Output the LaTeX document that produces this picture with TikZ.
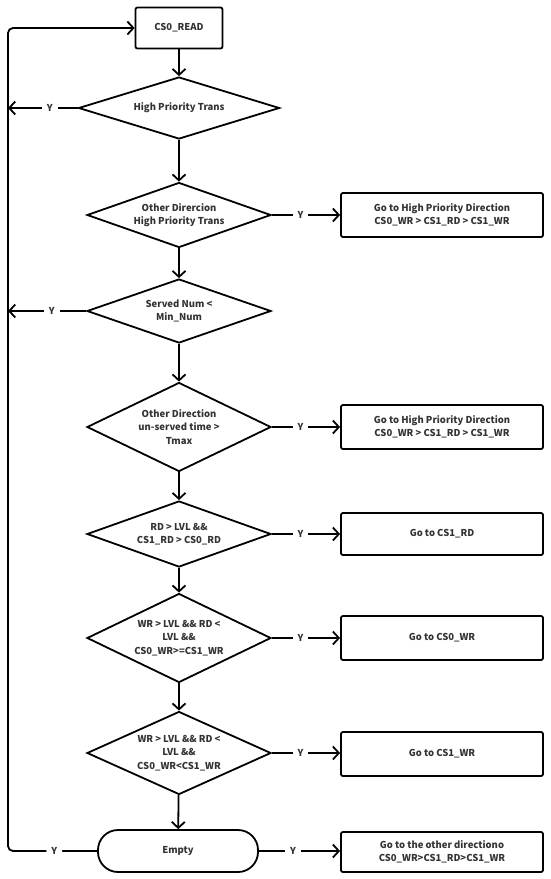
\documentclass[tikz,border=0pt]{standalone}
\usepackage{fontspec}
\setmainfont{Noto Sans CJK SC}
\usetikzlibrary{arrows.meta, positioning, shapes.geometric}

\begin{document}
\begin{tikzpicture}[x=1pt, y=-1pt, line width=1.8pt,
    font=\fontsize{9.5}{13.5}\selectfont\bfseries,
    every node/.style={text=black!80, align=center, inner sep=0pt},
    flow/.style={-{Straight Barb[length=6pt,width=13pt]}},
    startbox/.style={draw=black, rounded corners=2pt, minimum width=87pt, minimum height=41pt},
    gobox/.style={draw=black, rounded corners=2pt, minimum width=202pt, minimum height=43pt},
    test/.style={draw=black, diamond, aspect=2.8, minimum width=184pt},
    endbox/.style={draw=black, rounded corners=20pt, minimum width=160pt, minimum height=42pt},
    ylab/.style={fill=white, inner xsep=5pt, inner ysep=2pt},]

\useasboundingbox (0,0) rectangle (550,879);

\node[startbox] (read) at (179,28) {CS0\_READ};
\node[test, minimum width=201pt, minimum height=62pt] (hp) at (179,108) {High Priority Trans};
\node[test, minimum height=65pt] (ohp) at (179,215) {Other Dirercion\\High Priority Trans};
\node[test, minimum height=64pt] (num) at (179,311) {Served Num <\\Min\_Num};
\node[test, aspect=2, minimum height=89pt] (tmax) at (179,427) {Other Direction\\un-served time >\\Tmax};
\node[test, minimum height=66pt] (rd) at (179,534) {RD > LVL \&\&\\CS1\_RD > CS0\_RD};
\node[test, aspect=2, minimum height=89pt] (wr0) at (179,638) {WR > LVL \&\& RD <\\LVL \&\&\\CS0\_WR>=CS1\_WR};
\node[test, aspect=2.1, minimum height=83pt] (wr1) at (179,753) {WR > LVL \&\& RD <\\LVL \&\&\\CS0\_WR<CS1\_WR};
\node[endbox] (empty) at (178,851) {Empty};

\node[gobox, minimum height=44pt] (go1) at (442,215) {Go to High Priority Direction\\CS0\_WR > CS1\_RD > CS1\_WR};
\node[gobox, minimum height=44pt] (go2) at (442,427) {Go to High Priority Direction\\CS0\_WR > CS1\_RD > CS1\_WR};
\node[gobox, minimum height=42pt] (go3) at (442,534) {Go to CS1\_RD};
\node[gobox, minimum height=44pt] (go4) at (442,638) {Go to CS0\_WR};
\node[gobox, minimum height=44pt] (go5) at (442,754) {Go to CS1\_WR};
\node[gobox, minimum height=40pt] (go6) at (442,852) {Go to the other directiono\\CS0\_WR>CS1\_RD>CS1\_WR};

\coordinate (loop) at (8,851);

\draw[flow] (read) -- (hp);
\draw[flow] (hp) -- (ohp);
\draw[flow] (ohp) -- (num);
\draw[flow] (num) -- (tmax);
\draw[flow] (tmax) -- (rd);
\draw[flow] (rd) -- (wr0);
\draw[flow] (wr0) -- (wr1);
\draw[flow] (wr1) -- (empty);

\draw[flow] (ohp.east) -- node[ylab, pos=0.42] {Y} (ohp.east -| go1.west);
\draw[flow] (tmax.east) -- node[ylab, pos=0.42] {Y} (tmax.east -| go2.west);
\draw[flow] (rd.east) -- node[ylab, pos=0.42] {Y} (rd.east -| go3.west);
\draw[flow] (wr0.east) -- node[ylab, pos=0.42] {Y} (wr0.east -| go4.west);
\draw[flow] (wr1.east) -- node[ylab, pos=0.42] {Y} (wr1.east -| go5.west);
\draw[flow] (empty.east) -- node[ylab, pos=0.42] {Y} (empty.east -| go6.west);

\draw[flow] (hp.west) -- node[ylab, pos=0.4] {Y} (hp.west -| loop);
\draw[flow] (num.west) -- node[ylab, pos=0.44] {Y} (num.west -| loop);
\draw[flow, rounded corners=5pt] (empty.west) -- node[ylab, pos=0.48] {Y} (loop) |- (read.west);
\end{tikzpicture}
\end{document}
